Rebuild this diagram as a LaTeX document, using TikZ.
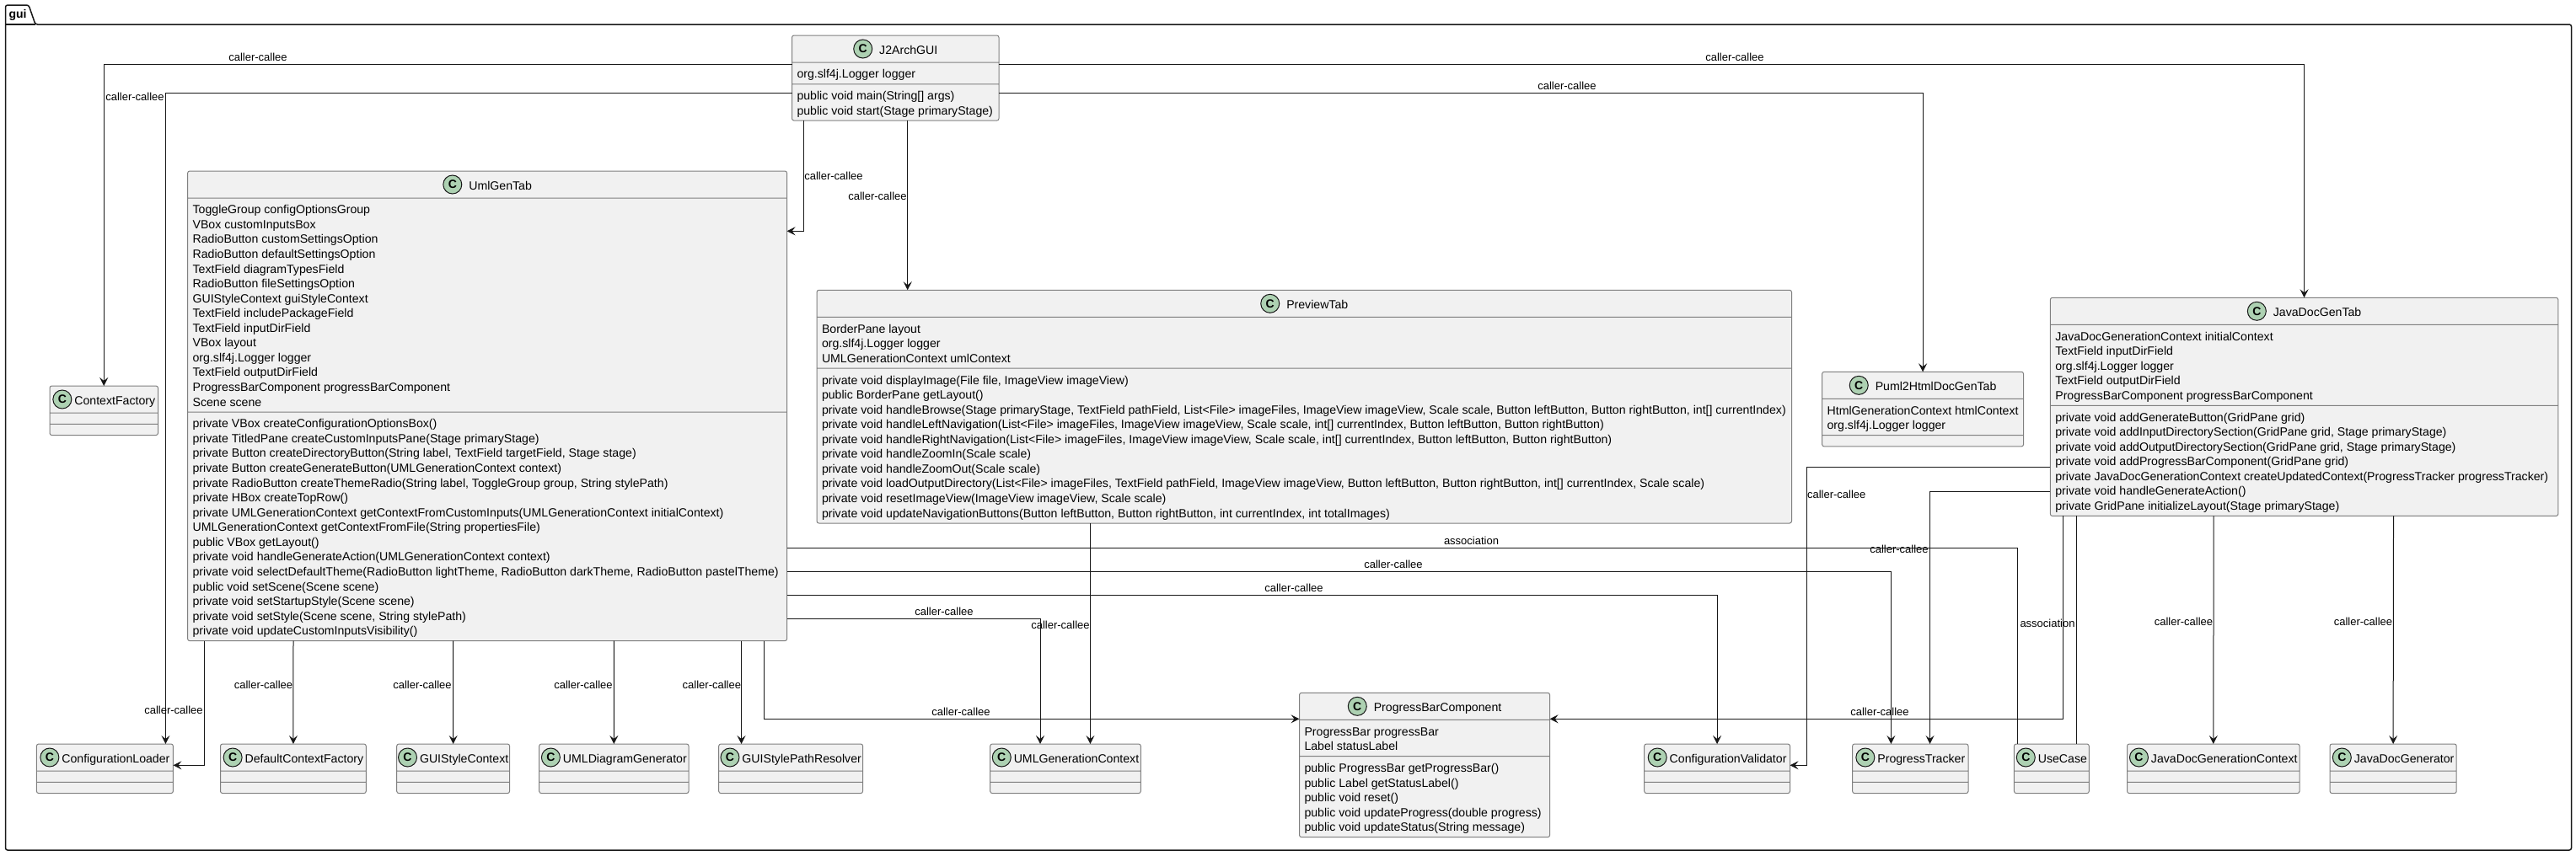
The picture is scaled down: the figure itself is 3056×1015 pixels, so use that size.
\documentclass[tikz,border=0pt]{standalone}
\usepackage{fontspec}
\setmainfont{Liberation Sans}
\usetikzlibrary{arrows.meta,positioning,shapes.multipart}
\definecolor{ink}{HTML}{181818}
\definecolor{boxline}{HTML}{808080}
\definecolor{boxfill}{HTML}{F1F1F1}
\definecolor{spotfill}{HTML}{ADD1B2}
\newcommand{\clstitle}[2][31]{\rule[-6pt]{0pt}{24pt}\hspace*{-5pt}\hspace*{#1pt}#2\hspace*{-5pt}}
\newcommand{\lns}[1]{\rule{0pt}{14.8pt}#1\rule[-2.97pt]{0pt}{2.97pt}}

\begin{document}
\begin{tikzpicture}[
  x=1pt,y=-1pt,
  font=\fontsize{14.13}{17.56}\selectfont,
  cls/.style={draw=boxline,fill=boxfill,line width=1pt,rounded corners=2.5pt,anchor=north west,outer sep=0pt,
    rectangle split,rectangle split parts=3,rectangle split part align={center,left,left},
    rectangle split empty part height=0pt,rectangle split empty part depth=0pt,inner xsep=6pt,inner ysep=3.5pt,align=left},
  spot/.style={circle,draw=ink,fill=spotfill,line width=1pt,minimum size=22pt,inner sep=0pt,xshift=-5pt,yshift=6pt,
    font=\fontsize{14}{16}\selectfont\bfseries},
  arr/.style={-{Stealth[length=10pt,width=10pt,inset=4pt]},line width=1pt,draw=ink},
  plain/.style={line width=1pt,draw=ink},
  lbl/.style={font=\fontsize{13}{15}\selectfont,inner sep=0pt}
]
\useasboundingbox (0,0) rectangle (3056,1015);
% package
\draw[draw=ink,line width=1.5pt,rounded corners=2.5pt] (6.5,29) -- (6.5,6) -- (34,6) -- (42,29) -- (3050.5,29) -- (3050.5,1009) -- (6.5,1009) -- cycle;
\draw[draw=ink,line width=1.5pt] (6.5,29) -- (42,29);
\node[inner sep=0pt,font=\fontsize{14}{16}\selectfont\bfseries] (guipkg) at (21,18) {gui};

% top row
\node[cls,minimum width=245.5pt] (j2arch) at (939.5,42) {\clstitle{J2ArchGUI}
  \nodepart{two}\lns{org.slf4j.Logger logger}
  \nodepart{three}\lns{public void main(String[] args)\\public void start(Stage primaryStage)}};
\node[cls,minimum width=128.5pt] (contextfactory) at (59,458) {\clstitle[26]{ContextFactory}\nodepart{two}\nodepart{three}};
\node[cls,minimum width=711pt] (umlgentab) at (222.6,203) {\clstitle{UmlGenTab}
  \nodepart{two}\lns{ToggleGroup configOptionsGroup\\VBox customInputsBox\\RadioButton customSettingsOption\\RadioButton defaultSettingsOption\\TextField diagramTypesField\\RadioButton fileSettingsOption\\GUIStyleContext guiStyleContext\\TextField includePackageField\\TextField inputDirField\\VBox layout\\org.slf4j.Logger logger\\TextField outputDirField\\ProgressBarComponent progressBarComponent\\Scene scene}
  \nodepart{three}\lns{private VBox createConfigurationOptionsBox()\\private TitledPane createCustomInputsPane(Stage primaryStage)\\private Button createDirectoryButton(String label, TextField targetField, Stage stage)\\private Button createGenerateButton(UMLGenerationContext context)\\private RadioButton createThemeRadio(String label, ToggleGroup group, String stylePath)\\private HBox createTopRow()\\private UMLGenerationContext getContextFromCustomInputs(UMLGenerationContext initialContext)\\UMLGenerationContext getContextFromFile(String propertiesFile)\\public VBox getLayout()\\private void handleGenerateAction(UMLGenerationContext context)\\private void selectDefaultTheme(RadioButton lightTheme, RadioButton darkTheme, RadioButton pastelTheme)\\public void setScene(Scene scene)\\private void setStartupStyle(Scene scene)\\private void setStyle(Scene scene, String stylePath)\\private void updateCustomInputsVisibility()}};
\node[cls,minimum width=1156.5pt] (previewtab) at (969,344.3) {\clstitle{PreviewTab}
  \nodepart{two}\lns{BorderPane layout\\org.slf4j.Logger logger\\UMLGenerationContext umlContext}
  \nodepart{three}\lns{private void displayImage(File file, ImageView imageView)\\public BorderPane getLayout()\\private void handleBrowse(Stage primaryStage, TextField pathField, List<File> imageFiles, ImageView imageView, Scale scale, Button leftButton, Button rightButton, int[] currentIndex)\\private void handleLeftNavigation(List<File> imageFiles, ImageView imageView, Scale scale, int[] currentIndex, Button leftButton, Button rightButton)\\private void handleRightNavigation(List<File> imageFiles, ImageView imageView, Scale scale, int[] currentIndex, Button leftButton, Button rightButton)\\private void handleZoomIn(Scale scale)\\private void handleZoomOut(Scale scale)\\private void loadOutputDirectory(List<File> imageFiles, TextField pathField, ImageView imageView, Button leftButton, Button rightButton, int[] currentIndex, Scale scale)\\private void resetImageView(ImageView imageView, Scale scale)\\private void updateNavigationButtons(Button leftButton, Button rightButton, int currentIndex, int totalImages)}};
\node[cls,minimum width=236pt] (pumltab) at (2161.6,441.3) {\clstitle{Puml2HtmlDocGenTab}
  \nodepart{two}\lns{HtmlGenerationContext htmlContext\\org.slf4j.Logger logger}\nodepart{three}};
\node[cls,minimum width=602.5pt] (javadoctab) at (2432.3,353.3) {\clstitle{JavaDocGenTab}
  \nodepart{two}\lns{JavaDocGenerationContext initialContext\\TextField inputDirField\\org.slf4j.Logger logger\\TextField outputDirField\\ProgressBarComponent progressBarComponent}
  \nodepart{three}\lns{private void addGenerateButton(GridPane grid)\\private void addInputDirectorySection(GridPane grid, Stage primaryStage)\\private void addOutputDirectorySection(GridPane grid, Stage primaryStage)\\private void addProgressBarComponent(GridPane grid)\\private JavaDocGenerationContext createUpdatedContext(ProgressTracker progressTracker)\\private void handleGenerateAction()\\private GridPane initializeLayout(Stage primaryStage)}};

% bottom row
\node[cls,minimum width=162pt] (configloader) at (43.4,883) {\clstitle[26]{ConfigurationLoader}\nodepart{two}\nodepart{three}};
\node[cls,minimum width=172.8pt] (defaultfactory) at (261.5,883) {\clstitle[26]{DefaultContextFactory}\nodepart{two}\nodepart{three}};
\node[cls,minimum width=133.9pt] (stylecontext) at (470.7,883) {\clstitle[26]{GUIStyleContext}\nodepart{two}\nodepart{three}};
\node[cls,minimum width=177.3pt] (umlgenerator) at (639.7,883) {\clstitle[26]{UMLDiagramGenerator}\nodepart{two}\nodepart{three}};
\node[cls,minimum width=170.9pt] (styleresolver) at (852.7,883) {\clstitle[26]{GUIStylePathResolver}\nodepart{two}\nodepart{three}};
\node[cls,minimum width=178.6pt] (umlcontext) at (1174.7,883) {\clstitle[26]{UMLGenerationContext}\nodepart{two}\nodepart{three}};
\node[cls,minimum width=297.1pt] (progressbar) at (1541.5,822.3) {\clstitle{ProgressBarComponent}
  \nodepart{two}\lns{ProgressBar progressBar\\Label statusLabel}
  \nodepart{three}\lns{public ProgressBar getProgressBar()\\public Label getStatusLabel()\\public void reset()\\public void updateProgress(double progress)\\public void updateStatus(String message)}};
\node[cls,minimum width=172.8pt] (configvalidator) at (1950.7,883) {\clstitle[26]{ConfigurationValidator}\nodepart{two}\nodepart{three}};
\node[cls,minimum width=137.4pt] (tracker) at (2197.6,883) {\clstitle[26]{ProgressTracker}\nodepart{two}\nodepart{three}};
\node[cls,minimum width=88.9pt] (usecase) at (2389.4,883) {\clstitle[26]{UseCase}\nodepart{two}\nodepart{three}};
\node[cls,minimum width=204.5pt] (doccontext) at (2523.5,883) {\clstitle[26]{JavaDocGenerationContext}\nodepart{two}\nodepart{three}};
\node[cls,minimum width=150.2pt] (docgenerator) at (2764,883) {\clstitle[26]{JavaDocGenerator}\nodepart{two}\nodepart{three}};

% spots
\node[spot,right=0pt of j2arch.text] (spotj2arch) {C};
\node[spot,right=0pt of contextfactory.text] (spotcontextfactory) {C};
\node[spot,right=0pt of umlgentab.text] (spotumlgentab) {C};
\node[spot,right=0pt of previewtab.text] (spotpreviewtab) {C};
\node[spot,right=0pt of pumltab.text] (spotpumltab) {C};
\node[spot,right=0pt of javadoctab.text] (spotjavadoctab) {C};
\node[spot,right=0pt of configloader.text] (spotconfigloader) {C};
\node[spot,right=0pt of defaultfactory.text] (spotdefaultfactory) {C};
\node[spot,right=0pt of stylecontext.text] (spotstylecontext) {C};
\node[spot,right=0pt of umlgenerator.text] (spotumlgenerator) {C};
\node[spot,right=0pt of styleresolver.text] (spotstyleresolver) {C};
\node[spot,right=0pt of umlcontext.text] (spotumlcontext) {C};
\node[spot,right=0pt of progressbar.text] (spotprogressbar) {C};
\node[spot,right=0pt of configvalidator.text] (spotconfigvalidator) {C};
\node[spot,right=0pt of tracker.text] (spottracker) {C};
\node[spot,right=0pt of usecase.text] (spotusecase) {C};
\node[spot,right=0pt of doccontext.text] (spotdoccontext) {C};
\node[spot,right=0pt of docgenerator.text] (spotdocgenerator) {C};

% J2ArchGUI calls
\draw[arr] (j2arch.west|-0,76.3) -| (contextfactory.north);
\draw[arr] (j2arch.east|-0,76.3) -| (javadoctab.north);
\draw[arr] (j2arch.west|-0,110) -| (configloader.north-|196.4,0);
\draw[arr] (j2arch.east|-0,110) -| (pumltab.north);
\draw[arr] (j2arch.south-|953.6,0) |- (umlgentab.east|-0,274.3);
\draw[arr] (j2arch.south-|1076.7,0) -- (previewtab.north-|1076.7,0);
% UmlGenTab calls
\draw[arr] (umlgentab.south-|242.3,0) |- (configloader.east|-0,908.3);
\draw[arr] (umlgentab.south-|348,0) -- (defaultfactory.north);
\draw[arr] (umlgentab.south-|537.6,0) -- (stylecontext.north);
\draw[arr] (umlgentab.south-|728.3,0) -- (umlgenerator.north);
\draw[arr] (umlgentab.south-|879.5,0) -- (styleresolver.north-|879.5,0);
\draw[arr] (umlgentab.south-|906.3,0) |- (progressbar.west|-0,853.3);
\draw[arr] (umlgentab.east|-0,734.3) -| (umlcontext.north-|1234,0);
\draw[arr] (umlgentab.east|-0,706.3) -| (configvalidator.north);
\draw[arr] (umlgentab.east|-0,678.3) -| (tracker.north-|2243.4,0);
\draw[plain] (umlgentab.east|-0,650.3) -| (usecase.north-|2393,0);
% PreviewTab and JavaDocGenTab calls
\coordinate (validatorbend) at (2143.3,731);
\draw[arr] (previewtab.south-|1293.4,0) -- (umlcontext.north-|1293.4,0);
\draw[arr] (javadoctab.west|-0,554.3) -| (validatorbend) |- (configvalidator.east|-0,908.3);
\draw[arr] (javadoctab.west|-0,583.3) -| (tracker.north-|2289.5,0);
\draw[arr] (javadoctab.south-|2447.5,0) |- (progressbar.east|-0,853.3);
\draw[plain] (javadoctab.south-|2463,0) -- (usecase.north-|2463,0);
\draw[arr] (javadoctab.south-|2626.2,0) -- (doccontext.north);
\draw[arr] (javadoctab.south-|2839.5,0) -- (docgenerator.north);

% edge labels
\node[lbl] (lbla) at (306,68) {caller-callee};
\node[lbl] (lblb) at (2058,68) {caller-callee};
\node[lbl] (lblc) at (160,115) {caller-callee};
\node[lbl] (lbld) at (1859,101.7) {caller-callee};
\node[lbl] (lble) at (989,209) {caller-callee};
\node[lbl] (lblf) at (1041,232.7) {caller-callee};
\node[lbl] (lblg) at (206,843) {caller-callee};
\node[lbl] (lblh) at (312.5,812.7) {caller-callee};
\node[lbl] (lbli) at (501,812.7) {caller-callee};
\node[lbl] (lblj) at (692,812.7) {caller-callee};
\node[lbl] (lblk) at (844.4,812.7) {caller-callee};
\node[lbl] (lbll) at (1140,845) {caller-callee};
\node[lbl] (lblm) at (1120,725.7) {caller-callee};
\node[lbl] (lbln) at (1258,742) {caller-callee};
\node[lbl] (lblo) at (1535,697.7) {caller-callee};
\node[lbl] (lblp) at (1653,669.7) {caller-callee};
\node[lbl] (lblq) at (1745.5,641.7) {association};
\node[lbl] (lblr) at (2178.7,587) {caller-callee};
\node[lbl] (lbls) at (2253,652) {caller-callee};
\node[lbl] (lblt) at (2230,845) {caller-callee};
\node[lbl] (lblu) at (2429,740) {association};
\node[lbl] (lblv) at (2590.5,737.7) {caller-callee};
\node[lbl] (lblw) at (2803.5,737.7) {caller-callee};
\end{tikzpicture}
\end{document}
